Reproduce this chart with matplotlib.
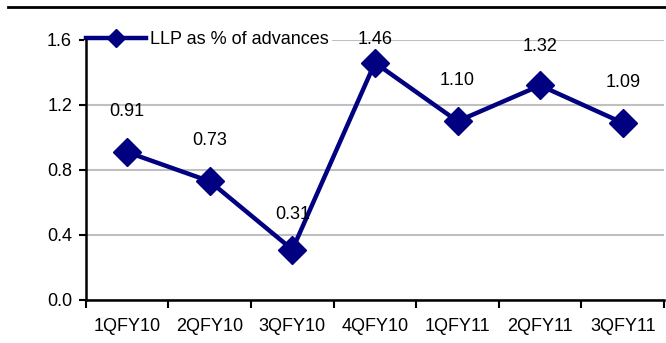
import matplotlib
matplotlib.use("Agg")
import matplotlib.pyplot as plt
from matplotlib.lines import Line2D
import numpy as np

quarters = ["1QFY10", "2QFY10", "3QFY10", "4QFY10", "1QFY11", "2QFY11", "3QFY11"]
llp_pct = [0.91, 0.73, 0.31, 1.46, 1.10, 1.32, 1.09]
label_text = ["0.91", "0.73", "0.31", "1.46", "1.10", "1.32", "1.09"]
label_offset_pt = [29.5, 29.5, 25, 16.5, 29, 28, 29]
yticks = [0.0, 0.4, 0.8, 1.2, 1.6]

navy = "#000080"
plt.rcParams["font.family"] = ["Liberation Sans", "DejaVu Sans"]
FS = 13

fig = plt.figure(figsize=(6.66, 3.43), dpi=100)
ax = fig.add_axes([0.129, 0.1254, 0.868, 0.758])

x = np.arange(len(quarters))
ax.plot(x, llp_pct, color=navy, lw=3.2, marker="D", markersize=14,
        label="LLP as % of advances", zorder=3)

for xi, v, t, off in zip(x, llp_pct, label_text, label_offset_pt):
    ax.annotate(t, (xi, v), xytext=(0, off), textcoords="offset points",
                ha="center", va="center", fontsize=FS, color="black", zorder=4)

ax.set_xlim(-0.5, len(quarters) - 0.5)
ax.set_ylim(0, 1.6)
ax.set_yticks(yticks)
ax.set_yticklabels([f"{v:.1f}" for v in yticks], fontsize=FS)
ax.yaxis.grid(True, color="#c0c0c0", lw=1.5)
ax.set_axisbelow(True)

ax.set_xticks(x)
ax.set_xticklabels(quarters, fontsize=FS)
ax.set_xticks(np.arange(len(quarters) + 1) - 0.5, minor=True)
ax.tick_params(axis="x", which="major", length=0, pad=13)
ax.tick_params(axis="x", which="minor", length=6, width=1.5, direction="out")
ax.tick_params(axis="y", length=5, width=1.5, direction="out", pad=5)

for s in ("top", "right"):
    ax.spines[s].set_visible(False)
for s in ("left", "bottom"):
    ax.spines[s].set_linewidth(1.8)
    ax.spines[s].set_color("black")

leg = ax.legend(loc="upper left", bbox_to_anchor=(-0.004, 1.045), frameon=True,
                fontsize=FS, handlelength=3.3, borderpad=0.15, borderaxespad=0,
                handletextpad=0.25, fancybox=False)
leg.get_frame().set_edgecolor("none")
leg.get_frame().set_facecolor("white")
leg.get_frame().set_alpha(1)
leg.legend_handles[0].set_markersize(9)
# keep the legend box above the gridlines but beneath the left spine
leg.set_zorder(2)

fig.add_artist(Line2D([0.012, 1.0], [0.979, 0.979], transform=fig.transFigure,
                      color="black", lw=2))

fig.savefig("out.png", dpi=100)
